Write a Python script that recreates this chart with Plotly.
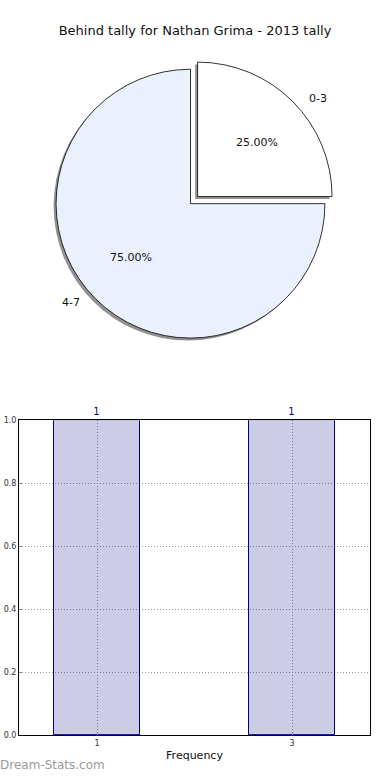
import math
import plotly.graph_objects as go

# ---------------- data ----------------
pie_labels = ["0-3", "4-7"]
pie_values = [1, 3]
pie_colors = ["#FFFFFF", "#EAF0FC"]
pie_pull = [0.075, 0.0]

bar_x = [1, 3]
bar_y = [1, 1]
x_ticks = [1, 3]
y_ticks = [0.0, 0.2, 0.4, 0.6, 0.8, 1.0]

title_text = "Behind tally for Nathan Grima - 2013 tally"

# ---------------- layout geometry ----------------
W, H = 390, 780
cx, cy = 190.5, 202.0          # pie centre in px
r = 136.0                       # pie radius in px
maxpull = max(pie_pull)
half = r * (1 + maxpull)


def dom(cx_, cy_):
    return dict(x=[(cx_ - half) / W, (cx_ + half) / W],
                y=[1 - (cy_ + half) / H, 1 - (cy_ - half) / H])


fig = go.Figure()

# shadow
fig.add_trace(go.Pie(
    labels=pie_labels, values=pie_values, sort=False, direction="clockwise",
    rotation=0, pull=pie_pull, textinfo="none", hoverinfo="skip",
    marker=dict(colors=["rgba(110,110,110,0.75)"] * 2, line=dict(width=0)),
    domain=dom(cx - 2.5, cy + 2.5), showlegend=False))

# main pie
fig.add_trace(go.Pie(
    labels=pie_labels, values=pie_values, sort=False, direction="clockwise",
    rotation=0, pull=pie_pull, textinfo="none",
    marker=dict(colors=pie_colors, line=dict(color="#000000", width=0.8)),
    domain=dom(cx, cy), showlegend=False))

# labels computed from slice angles
annotations = []
total = sum(pie_values)
start = 90.0
rx_lab, ry_lab = 140.0, 128.0
for lab, val, pl in zip(pie_labels, pie_values, pie_pull):
    sweep = 360.0 * val / total
    mid = math.radians(start - sweep / 2)
    start -= sweep
    ox = cx + pl * r * math.cos(mid)
    oy = cy - pl * r * math.sin(mid)
    px = ox + 0.6 * rx_lab * math.cos(mid)
    py = oy - 0.6 * ry_lab * math.sin(mid)
    annotations.append(dict(x=px / W, y=1 - py / H, xref="paper", yref="paper",
                            text=f"{100 * val / total:.2f}%", showarrow=False,
                            font=dict(size=11, color="#111"),
                            xanchor="center", yanchor="middle"))
    lx = ox + 1.1 * rx_lab * math.cos(mid)
    ly = oy - 1.1 * ry_lab * math.sin(mid)
    annotations.append(dict(x=lx / W, y=1 - ly / H, xref="paper", yref="paper",
                            text=lab, showarrow=False,
                            font=dict(size=11, color="#111"),
                            xanchor="left" if math.cos(mid) >= 0 else "right",
                            yanchor="middle"))

# watermark
annotations.append(dict(x=-2 / W, y=1 - 770 / H, xref="paper", yref="paper",
                        text="Dream-Stats.com", showarrow=False,
                        font=dict(size=12, color="#9a9a9a", family="DejaVu Sans"),
                        xanchor="left", yanchor="middle"))

# bar chart
fig.add_trace(go.Bar(
    x=bar_x, y=bar_y, width=0.89, text=[str(v) for v in bar_y],
    textposition="outside", cliponaxis=False,
    textfont=dict(size=10, color="#000080"),
    marker=dict(color="rgba(0,0,128,0.2)", line=dict(color="#000080", width=1)),
    showlegend=False, xaxis="x", yaxis="y"))

axis_common = dict(showline=True, linecolor="#000", linewidth=1, mirror=True,
                   showgrid=True, gridcolor="#999999", griddash="1px,2px",
                   gridwidth=1, zeroline=False, ticks="inside", ticklen=3,
                   tickcolor="#888", tickfont=dict(size=8, color="#333"))

fig.update_layout(
    width=W, height=H,
    autosize=False,
    margin=dict(l=0, r=0, t=0, b=0),
    paper_bgcolor="white", plot_bgcolor="white",
    font=dict(family="DejaVu Sans", color="#111"),
    title=dict(text=title_text, x=0.5, xanchor="center",
               y=1 - 30 / H, yanchor="middle",
               font=dict(size=13, color="#111")),
    xaxis=dict(domain=[19 / W, 370 / W], range=[0.2, 3.8],
               tickvals=x_ticks, ticktext=[str(t) for t in x_ticks],
               title=dict(text="Frequency", font=dict(size=11, color="#111"),
                          standoff=4),
               **axis_common),
    yaxis=dict(domain=[1 - 740 / H, 1 - 421 / H], range=[0, 1],
               tickvals=y_ticks, ticktext=[f"{t:.1f}" for t in y_ticks],
               **axis_common),
    annotations=annotations,
    bargap=0,
)

fig.write_html(
    "out.html",
    config={"displayModeBar": False, "responsive": False},
    post_script=("document.documentElement.style.margin='0';"
                 "document.documentElement.style.overflow='hidden';"
                 "document.body.style.margin='0';"
                 "document.body.style.padding='0';"
                 "document.body.style.overflow='hidden';"),
)
